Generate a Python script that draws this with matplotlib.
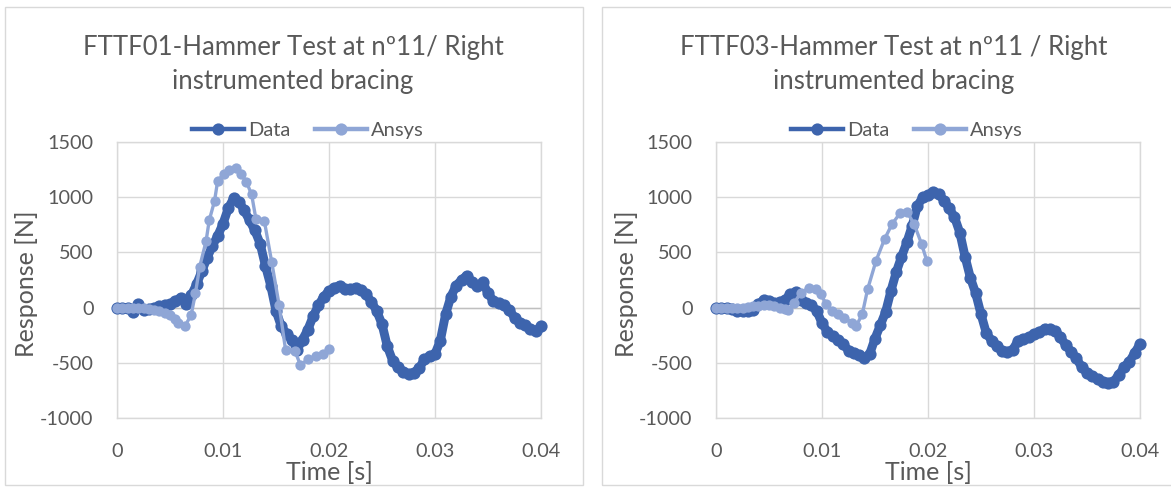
import matplotlib
matplotlib.use("Agg")
import matplotlib.pyplot as plt
from matplotlib.patches import Rectangle
from matplotlib.lines import Line2D

plt.rcParams['font.family'] = ['Lato', 'DejaVu Sans']

W, H = 1171, 487
DPI = 100

# ---- FTTF01 ----
data1_t = [i * 0.0005 for i in range(81)]
data1_v = [0, 0, -5, -40, 30, -25, -10, 0, 10, 20,
           30, 60, 90, 30, 110, 210, 330, 450, 560, 650,
           760, 900, 990, 960, 880, 790, 700, 580, 380, 200,
           -30, -170, -240, -290, -380, -290, -200, -80, 20, 100,
           150, 180, 200, 170, 170, 180, 160, 120, 50, -30,
           -150, -350, -480, -540, -580, -600, -590, -550, -470, -440,
           -420, -300, -60, 100, 200, 250, 290, 230, 200, 230,
           130, 60, 40, 20, -20, -90, -140, -160, -190, -210,
           -170]

ansys1_t = [0, 0.0005, 0.001, 0.0015, 0.002, 0.0025, 0.003, 0.0035, 0.004, 0.0045,
            0.005, 0.0055, 0.0058, 0.0064, 0.007, 0.0074, 0.0078, 0.0084, 0.0087, 0.0092,
            0.0095, 0.0101, 0.0106, 0.0112, 0.0117, 0.0122, 0.0127, 0.0131, 0.0139, 0.0146,
            0.0153, 0.0159, 0.0168, 0.0173, 0.018, 0.0188, 0.0194, 0.02]
ansys1_v = [0, 0, 0, -2, -5, -8, -12, -18, -30, -45,
            -70, -105, -140, -170, -65, 130, 370, 600, 790, 965,
            1150, 1210, 1250, 1265, 1210, 1140, 1025, 805, 785, 410,
            20, -380, -395, -520, -470, -440, -420, -375]

# ---- FTTF03 ----
data3_t = [i * 0.0005 for i in range(81)]
data3_v = [0, 0, -5, -15, -30, -35, -30, -20, 30, 70,
           60, 45, 50, 70, 120, 140, 70, 40, 20, -30,
           -140, -220, -260, -290, -330, -390, -410, -430, -460, -420,
           -280, -160, -40, 150, 320, 460, 590, 740, 920, 1000,
           1020, 1045, 1030, 970, 900, 820, 680, 460, 270, 130,
           -60, -230, -300, -350, -390, -400, -380, -300, -280, -270,
           -240, -220, -190, -190, -210, -270, -340, -400, -460, -540,
           -590, -620, -650, -670, -680, -670, -610, -540, -490, -410,
           -330]

ansys3_t = [0, 0.0005, 0.001, 0.0015, 0.002, 0.0025, 0.003, 0.0035, 0.004, 0.0045,
            0.005, 0.0055, 0.006, 0.0065, 0.0068, 0.0074, 0.008, 0.0088, 0.0094, 0.0099,
            0.0104, 0.0109, 0.0115, 0.0121, 0.0128, 0.0132, 0.0138, 0.0143, 0.0151, 0.0159,
            0.0166, 0.0174, 0.018, 0.0187, 0.0194, 0.0199]
ansys3_v = [0, 0, 0, -2, -3, 0, 5, 10, 15, 20,
            20, 15, 0, -15, -25, 45, 135, 180, 165, 120,
            30, -30, -60, -90, -135, -170, -60, 165, 425, 620,
            755, 860, 870, 755, 575, 420]

titles = ["FTTF01-Hammer Test at nº11/ Right\ninstrumented bracing",
          "FTTF03-Hammer Test at nº11 / Right\ninstrumented bracing"]
series_names = ["Data", "Ansys"]
x_ticks = [0, 0.01, 0.02, 0.03, 0.04]
x_ticklabels = ["0", "0.01", "0.02", "0.03", "0.04"]
y_ticks = [-1000, -500, 0, 500, 1000, 1500]
y_ticklabels = ["-1000", "-500", "0", "500", "1000", "1500"]

DARK = "#3D64AD"
LIGHT = "#8FA6D6"
GRID = "#D9D9D9"
TEXT = "#595959"

fig = plt.figure(figsize=(W / DPI, H / DPI), dpi=DPI)
fig.patch.set_facecolor("white")


def fx(px):
    return px / W


def fy(py):
    return 1 - py / H


panels = [
    dict(offset=0, box=(5, 583), data=(data1_t, data1_v), ansys=(ansys1_t, ansys1_v)),
    dict(offset=599, box=(602, 1200), data=(data3_t, data3_v), ansys=(ansys3_t, ansys3_v)),
]

for i, p in enumerate(panels):
    off = p["offset"]
    bx0, bx1 = p["box"]
    fig.patches.append(Rectangle((fx(bx0), fy(485)), fx(bx1 - bx0), (485 - 7) / H,
                                 transform=fig.transFigure, fill=False,
                                 edgecolor=GRID, linewidth=1.0, zorder=0))

    ax_l, ax_r = 117 + off, 541 + off
    ax_t, ax_b = 142, 418
    ax = fig.add_axes([fx(ax_l), fy(ax_b), fx(ax_r - ax_l), (ax_b - ax_t) / H])
    ax.set_xlim(0, 0.04)
    ax.set_ylim(-1000, 1500)
    ax.set_xticks(x_ticks)
    ax.set_xticklabels(x_ticklabels)
    ax.set_yticks(y_ticks)
    ax.set_yticklabels(y_ticklabels)
    ax.tick_params(length=0, labelsize=14.3, colors=TEXT)
    ax.tick_params(axis="x", pad=18)
    ax.tick_params(axis="y", pad=17)
    ax.grid(True, color=GRID, linewidth=1.0)
    ax.set_axisbelow(True)
    for s in ax.spines.values():
        s.set_color(GRID)
        s.set_linewidth(1.0)
    ax.axhline(0, color="#BFBFBF", linewidth=1.0, zorder=1)

    dt, dv = p["data"]
    at, av = p["ansys"]
    ax.plot(dt, dv, color=DARK, linewidth=6.4, marker="o", markersize=8.8,
            markeredgewidth=0, clip_on=False, zorder=3,
            solid_capstyle="round", solid_joinstyle="round")
    ax.plot(at, av, color=LIGHT, linewidth=2.4, marker="o", markersize=7.4,
            markeredgewidth=0, clip_on=False, zorder=4)

    ax.set_xlabel("Time [s]", fontsize=18, color=TEXT)
    ax.xaxis.label.set_va("center")
    ax.xaxis.set_label_coords(0.5, -(472 - ax_b) / (ax_b - ax_t))
    ax.set_ylabel("Response [N]", fontsize=18, color=TEXT)
    ax.yaxis.label.set_va("center")
    ax.yaxis.set_label_coords(-(ax_l - (27 + off)) / (ax_r - ax_l), 0.5 - 4 / (ax_b - ax_t))

    tx = 294 + off - (1 if i == 0 else -1)
    fig.text(fx(tx), fy(65), titles[i], ha="center", va="center",
             fontsize=18.5, color=TEXT, linespacing=1.45)

    handles = [Line2D([], [], color=DARK, linewidth=3.2, marker="o", markersize=8.8,
                      markeredgewidth=0),
               Line2D([], [], color=LIGHT, linewidth=3.2, marker="o", markersize=8.8,
                      markeredgewidth=0)]
    ax.legend(handles, series_names, loc="center", ncol=2, frameon=False,
              bbox_to_anchor=(fx(308 + off), fy(130)), bbox_transform=fig.transFigure,
              fontsize=14.5, labelcolor=TEXT, handlelength=2.6, handletextpad=0.2,
              columnspacing=1.2, borderaxespad=0)

fig.savefig("out.png", dpi=DPI)
